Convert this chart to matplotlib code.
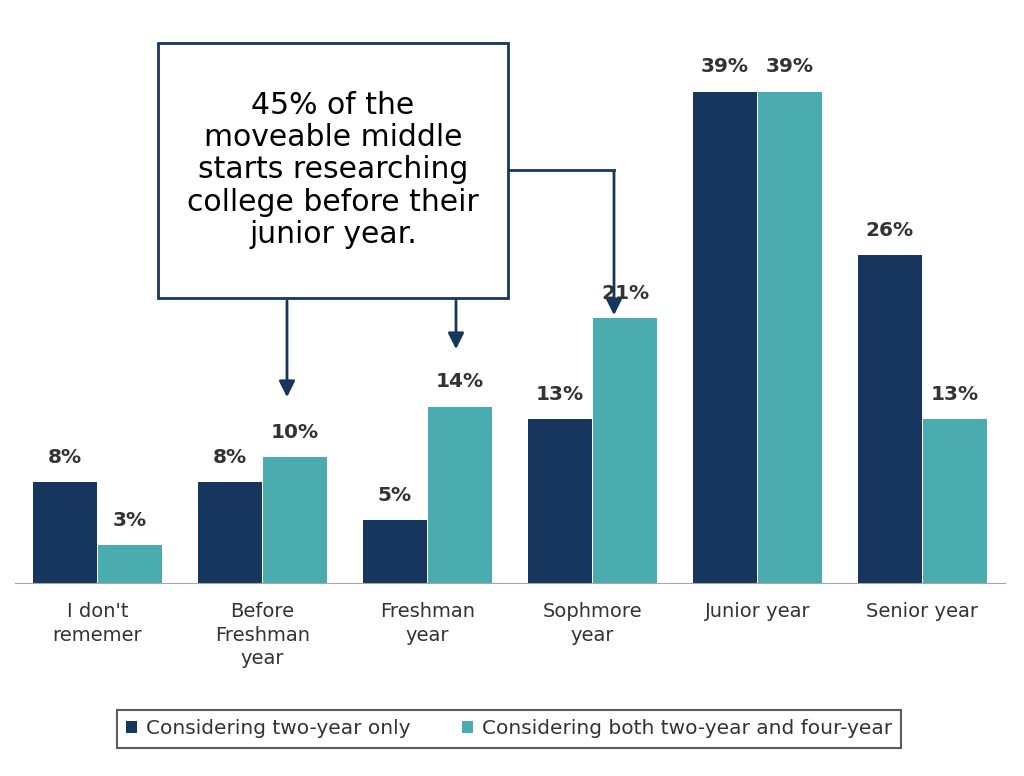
import matplotlib.pyplot as plt
import matplotlib.patches as mpatches
import numpy as np

navy = "#17365D"
teal = "#4BACB0"

categories = ["I don't\nrememer", "Before\nFreshman\nyear", "Freshman\nyear",
              "Sophmore\nyear", "Junior year", "Senior year"]
two_year = [8, 8, 5, 13, 39, 26]
both = [3, 10, 14, 21, 39, 13]
series_names = ["Considering two-year only", "Considering both two-year and four-year"]

W, H = 1024, 776
fig = plt.figure(figsize=(W / 100, H / 100), dpi=100)
ax = fig.add_axes([15 / W, (H - 583) / H, 990 / W, 567 / H])

x = np.arange(len(categories))
bw = 0.385
b1 = ax.bar(x - bw / 2 - 0.005, two_year, bw, color=navy, label=series_names[0])
b2 = ax.bar(x + bw / 2 + 0.005, both, bw, color=teal, label=series_names[1])
for bars in (b1, b2):
    for r in bars:
        ax.text(r.get_x() + r.get_width() / 2, r.get_height() + 1.2, f"{r.get_height():.0f}%",
                ha="center", va="bottom", fontsize=14.5, fontweight="bold", color="#333333")

ax.set_xlim(-0.5, 5.5)
ax.set_ylim(0, 45)
ax.set_yticks([])
ax.set_xticks(x)
ax.set_xticklabels(categories, fontsize=14, color="#333333", linespacing=1.3, va="top")
ax.tick_params(axis="x", length=0, pad=14)
for s in ["top", "right", "left"]:
    ax.spines[s].set_visible(False)
ax.spines["bottom"].set_color("#A6A6A6")


def fx(px):
    return px / W


def fy(py):
    return 1 - py / H


# callout box
box = mpatches.Rectangle((fx(158), fy(298)), fx(508) - fx(158), fy(43) - fy(298),
                         transform=fig.transFigure, facecolor="white",
                         edgecolor=navy, linewidth=2, zorder=5)
fig.add_artist(box)
fig.text(fx(333), fy(170), "45% of the\nmoveable middle\nstarts researching\ncollege before their\njunior year.",
         ha="center", va="center", fontsize=21.5, color="black", linespacing=1.15, zorder=6)

arrow_kw = dict(arrowstyle="-|>,head_length=0.8,head_width=0.4", color=navy, lw=2)
for sx, ex_y in [(287, 400), (456, 352)]:
    fig.add_artist(mpatches.FancyArrowPatch((fx(sx), fy(298)), (fx(sx), fy(ex_y)),
                                            transform=fig.transFigure, mutation_scale=12, **arrow_kw))
fig.add_artist(plt.Line2D([fx(508), fx(614)], [fy(170), fy(170)], transform=fig.transFigure,
                          color=navy, lw=2))
fig.add_artist(mpatches.FancyArrowPatch((fx(614), fy(169)), (fx(614), fy(318)),
                                        transform=fig.transFigure, mutation_scale=12, **arrow_kw))

leg = fig.legend(handles=[b1, b2], loc="center", bbox_to_anchor=(fx(509), fy(729)), ncol=2,
                 fontsize=14.5, frameon=True, fancybox=False, edgecolor="#333333",
                 handlelength=0.55, handleheight=0.55, handletextpad=0.4, columnspacing=2.6,
                 borderpad=0.45, borderaxespad=0, labelcolor="#333333")
leg.get_frame().set_linewidth(1.5)

fig.savefig("out.png", dpi=100, facecolor="white")
